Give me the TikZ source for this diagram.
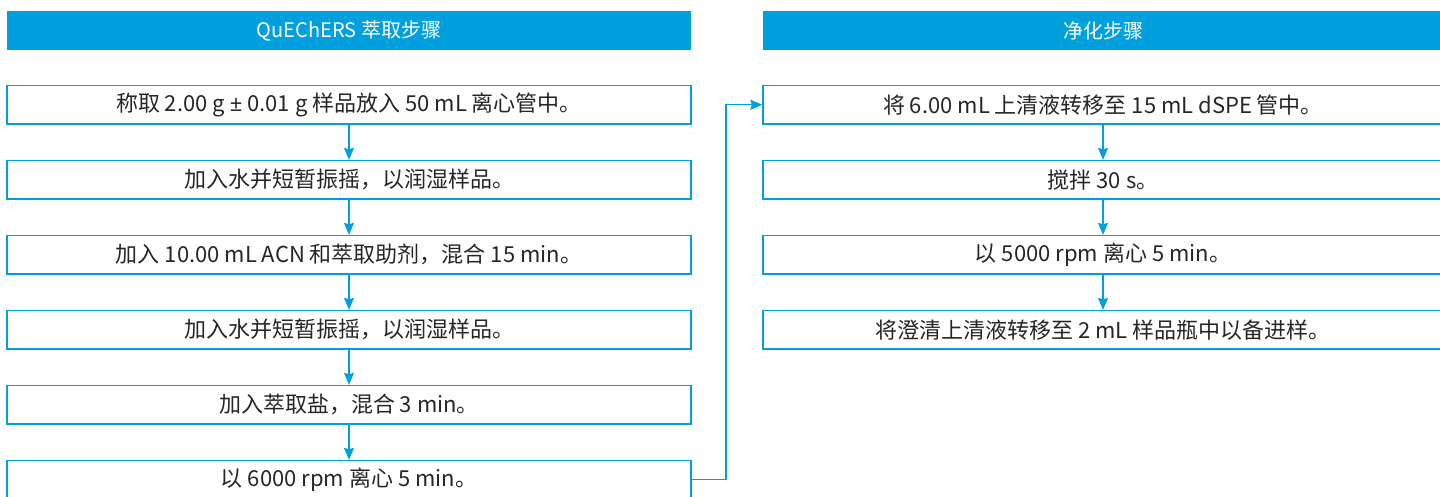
\documentclass[tikz,border=0pt]{standalone}
\usepackage{fontspec}
\setmainfont{Noto Sans CJK SC}
\newfontfamily\latfont{Noto Sans}
\usetikzlibrary{arrows.meta}
\definecolor{ag}{HTML}{00A0DF}
\begin{document}
\begin{tikzpicture}[x=1pt,y=-1pt,
  hdr/.style={fill=ag, draw=none, text=white, font=\fontsize{20}{20}\selectfont, minimum height=39pt, inner sep=0pt},
  stepbox/.style={draw=ag, line width=1.3pt, minimum height=38.5pt, font=\fontsize{22}{22}\selectfont, text=black!85, inner sep=0pt},
  lbox/.style={stepbox, minimum width=684pt},
  rbox/.style={stepbox, minimum width=680pt},
  arr/.style={draw=ag, line width=1.3pt, -{Stealth[inset=1.5pt,length=12pt,width=10pt]}}]
\useasboundingbox (0,0) rectangle (1440,496);
\clip (0,0) rectangle (1440,496);
\node[hdr, minimum width=684pt] (h1) at (349,30.5) {QuEChERS 萃取步骤};
\node[hdr, minimum width=680pt] (h2) at (1103,30.5) {净化步骤};
\node[lbox] (b1) at (349,104.75) {称取 2.00 g {\latfont ±} 0.01 g 样品放入 50 mL 离心管中。};
\node[lbox] (b2) at (349,179.75) {加入水并短暂振摇，以润湿样品。};
\node[lbox] (b3) at (349,254.75) {加入 10.00 mL ACN 和萃取助剂，混合 15 min。};
\node[lbox] (b4) at (349,329.75) {加入水并短暂振摇，以润湿样品。};
\node[lbox] (b5) at (349,404.75) {加入萃取盐，混合 3 min。};
\node[lbox] (b6) at (349,479.75) {以 6000 rpm 离心 5 min。};
\node[rbox] (r1) at (1103,104.75) {将 6.00 mL 上清液转移至 15 mL dSPE 管中。};
\node[rbox] (r2) at (1103,179.75) {搅拌 30 s。};
\node[rbox] (r3) at (1103,254.75) {以 5000 rpm 离心 5 min。};
\node[rbox] (r4) at (1103,329.75) {将澄清上清液转移至 2 mL 样品瓶中以备进样。};
\draw[arr] (b1) -- (b2);
\draw[arr] (b2) -- (b3);
\draw[arr] (b3) -- (b4);
\draw[arr] (b4) -- (b5);
\draw[arr] (b5) -- (b6);
\draw[arr] (r1) -- (r2);
\draw[arr] (r2) -- (r3);
\draw[arr] (r3) -- (r4);
\coordinate (elbow) at (726,479.75);
\draw[arr] (b6.east) -- (elbow) |- (r1.west);
\end{tikzpicture}
\end{document}
